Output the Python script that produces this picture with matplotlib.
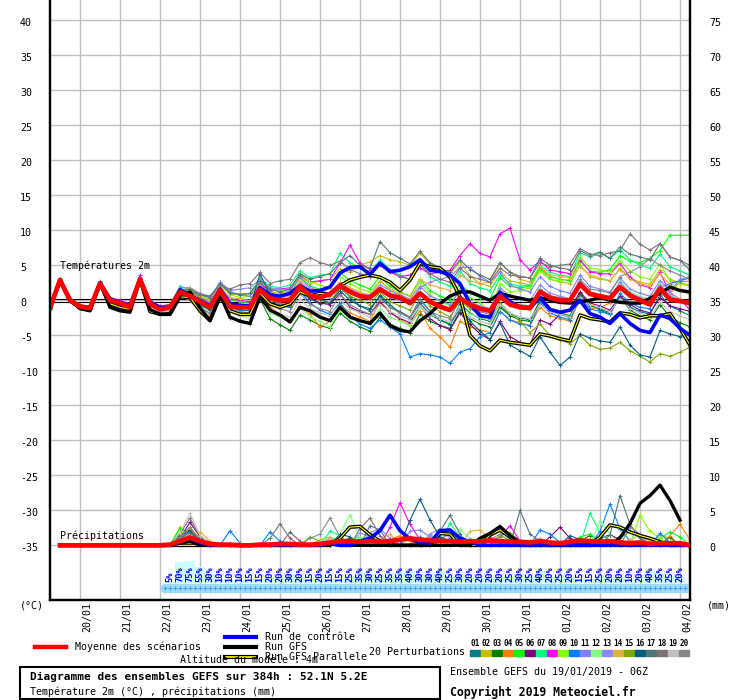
import numpy as np
import matplotlib
matplotlib.use("Agg")
import matplotlib.pyplot as plt
from matplotlib import transforms
from matplotlib.patches import Rectangle
from matplotlib.lines import Line2D

plt.rcParams['font.family'] = ['DejaVu Sans Mono']

# time axis : 65 steps of 6h from 19/01 06Z
steps = np.arange(65)
hours = steps * 6

day_labels = ['20/01', '21/01', '22/01', '23/01', '24/01', '25/01', '26/01', '27/01',
              '28/01', '29/01', '30/01', '31/01', '01/02', '02/02', '03/02', '04/02']
day_hours = [18 + 24 * k for k in range(len(day_labels))]

temp_ticks = list(range(-35, 45, 5))
rr_ticks = list(range(0, 80, 5))

# temperature 2m (°C)
mean_t = [-1.1, 2.9, 0.0, -0.9, -1.1, 2.4, 0.0, -0.4, -1.0, 3.0, -0.5, -1.3, -1.0,
          1.2, 0.6, -0.2, -1.0, 1.4, -0.9, -1.0, -1.0, 1.5, 0.3, 0.0, 0.0, 2.0,
          0.7, 0.4, 0.9, 2.1, 1.2, 0.6, 0.4, 1.6, 0.7, 0.4, -0.4, 1.0, -0.2,
          -0.9, -1.4, 0.3, -0.6, -1.2, -1.5, 0.6, -0.6, -1.0, -1.1, 1.2, 0.4, 0.0,
          0.0, 2.3, 0.9, 0.6, 0.3, 1.9, 0.7, 0.0, -0.6, 1.7, 0.1, -0.1, -0.4]
ctrl_t = [-1.1, 2.8, 0.1, -0.9, -1.2, 2.5, 0.2, -0.3, -0.8, 3.1, -0.3, -1.0, -1.0,
          1.5, 0.6, 0.0, -0.8, 1.6, -0.5, -0.7, -0.8, 1.8, 0.8, 0.6, 1.0, 2.1,
          1.3, 1.4, 1.9, 3.9, 4.7, 4.8, 3.7, 5.3, 4.1, 4.3, 4.8, 5.8, 4.3,
          4.1, 3.6, 2.4, -0.5, -2.2, -2.4, 1.2, -0.2, -1.0, -1.1, 0.4, -1.3, -1.7,
          -1.4, 0.0, -1.9, -2.4, -3.3, -1.9, -3.3, -4.3, -4.6, -2.1, -2.6, -4.0, -5.0]
gfs_t = [-1.1, 2.9, 0.0, -1.2, -1.5, 2.5, -1.0, -1.5, -1.7, 3.0, -1.3, -2.0, -1.9,
         0.7, 1.2, -1.1, -2.9, 0.8, -2.4, -3.0, -3.3, 0.5, -1.4, -2.1, -3.1, -1.0,
         -1.5, -2.4, -2.9, -1.0, -2.4, -2.9, -3.3, -1.8, -3.6, -4.3, -4.5, -2.9, -1.9,
         -0.5, 0.6, 1.2, 1.2, 0.6, 0.0, 1.0, 0.6, 0.3, 0.0, 0.4, 0.0, -0.3,
         -0.4, -0.2, 0.0, 0.4, 0.0, -0.3, -0.4, -0.4, 0.3, 1.0, 1.9, 1.4, 1.2]
para_t = [-1.1, 2.9, 0.0, -1.1, -1.4, 2.4, -0.5, -1.0, -1.3, 3.0, -1.6, -2.0, -2.0,
          0.5, 0.4, -1.5, -2.9, 0.5, -1.5, -2.0, -2.0, 1.0, -0.5, -1.0, -0.5, 1.2,
          0.6, 1.0, 0.8, 2.1, 2.9, 3.3, 3.6, 3.3, 2.6, 1.4, 2.9, 5.3, 4.8,
          4.6, 3.3, 0.5, -5.0, -6.5, -7.2, -5.7, -6.0, -6.2, -6.4, -4.8, -5.1, -5.5,
          -5.8, -2.1, -2.6, -2.8, -3.1, -1.8, -2.0, -2.5, -2.2, -2.2, -1.9, -4.0, -6.4]

pert_t = [
    [-1.0, 2.8, 0.1, -0.8, -1.2, 2.3, 0.1, -0.5, -1.1, 2.9, -0.6, -1.4, -1.2,
     1.0, 0.5, -0.5, -1.3, 1.2, -1.0, -1.4, -1.5, 1.1, -0.2, -0.8, -1.0, 1.5,
     0.2, -0.5, -0.3, 1.8, 0.5, -0.8, -1.5, 0.8, -0.6, -1.8, -2.5, 0.2, -1.5,
     -2.8, -3.5, -0.5, -1.8, -2.6, -3.0, -0.8, -2.0, -2.5, -2.8, -0.2, -1.5, -2.0,
     -2.5, 0.8, -0.8, -1.2, -1.8, 0.5, -1.0, -1.6, -2.0, 0.8, -0.8, -1.5, -2.2],
    [-1.2, 2.7, 0.2, -0.6, -0.9, 2.2, 0.3, -0.2, -0.7, 2.8, -0.2, -1.0, -0.6,
     1.5, 1.2, 0.5, 0.0, 2.4, 0.8, 1.0, 0.9, 2.3, 1.2, 1.0, 1.4, 3.6,
     2.4, 2.8, 3.0, 4.5, 4.0, 5.0, 5.5, 6.4, 5.8, 5.5, 5.0, 6.7, 5.2,
     4.5, 3.8, 5.5, 3.5, 2.4, 2.0, 4.2, 2.8, 2.5, 2.2, 4.5, 3.0, 2.6,
     2.4, 5.0, 3.4, 3.0, 2.8, 4.6, 3.2, 2.6, 2.3, 4.4, 3.0, 2.5, 2.2],
    [-1.1, 3.0, -0.1, -1.0, -1.3, 2.4, -0.2, -0.6, -1.2, 3.1, -0.7, -1.5, -1.4,
     0.8, 0.2, -1.0, -2.0, 0.6, -2.5, -2.8, -3.4, 0.2, -2.6, -3.5, -4.3, -2.1,
     -2.8, -3.6, -4.0, -1.8, -3.0, -3.8, -4.4, -2.4, -3.4, -4.0, -4.6, -2.0, -3.0,
     -3.6, -4.0, -1.6, -2.6, -3.4, -3.8, -1.0, -2.2, -2.8, -3.0, 0.0, -1.2, -1.8,
     -2.2, 1.0, -0.6, -1.4, -2.0, 0.6, -1.4, -2.2, -2.8, -0.6, -2.4, -3.2, -3.8],
    [-1.0, 2.9, 0.0, -1.0, -1.2, 2.3, -0.3, -0.8, -1.3, 2.9, -0.8, -1.6, -1.5,
     0.6, 0.0, -1.6, -2.3, 0.8, -1.6, -2.0, -2.2, 0.9, -1.0, -2.0, -2.9, -0.8,
     -2.0, -3.8, -3.0, -0.6, -1.8, -2.4, -3.0, -0.2, -1.6, -2.8, -3.5, -1.5, -4.0,
     -5.2, -6.7, -3.0, -3.8, -4.2, -4.6, -1.6, -2.8, -3.2, -3.6, -1.0, -2.2, -2.6,
     -3.0, 0.2, -1.2, -1.0, -0.4, 1.8, 0.8, 0.4, 0.2, 2.2, 1.0, 2.7, 2.7],
    [-0.9, 3.2, 0.2, -0.7, -1.0, 2.6, 0.1, -0.3, -0.9, 3.2, -0.4, -1.2, -0.9,
     1.6, 0.9, 0.2, -0.6, 2.0, 0.0, -0.2, -0.4, 2.6, 1.0, 0.6, 0.8, 3.4,
     2.0, 1.6, 2.0, 4.0, 2.8, 2.2, 1.6, 3.4, 2.0, 1.2, 0.6, 3.0, 1.4,
     0.6, 0.0, 2.4, 1.0, 0.4, 0.2, 3.2, 2.0, 1.8, 2.0, 4.6, 3.4, 3.0,
     2.8, 5.6, 4.2, 4.0, 4.4, 6.4, 5.6, 5.4, 6.0, 7.1, 9.3, 9.3, 9.3],
    [-1.2, 2.8, -0.1, -0.9, -1.1, 2.4, 0.0, -0.4, -1.0, 3.0, -0.5, -1.2, -1.0,
     1.1, 0.4, -0.4, -1.2, 1.3, -0.6, -1.0, -1.2, 1.2, -0.4, -0.6, -0.8, 1.8,
     0.4, -0.4, -0.6, 1.0, -1.0, -1.6, -2.0, -0.2, -1.8, -2.6, -3.2, -0.8, -2.6,
     -3.6, -4.2, -1.8, -3.4, -4.8, -5.6, -3.0, -5.2, -6.0, -6.4, -2.8, -3.4, -2.0,
     -1.2, 1.2, -0.4, -0.8, -1.4, 0.6, -0.6, -1.4, -1.8, 0.4, -0.8, -1.2, -1.6],
    [-1.0, 3.1, 0.3, -0.6, -0.9, 2.7, 0.4, -0.1, -0.7, 3.3, -0.2, -0.9, -0.7,
     2.0, 1.5, 0.8, 0.4, 2.6, 1.2, 0.8, 1.0, 3.2, 2.0, 1.8, 2.2, 4.2,
     3.2, 3.6, 3.8, 6.7, 5.4, 4.6, 4.0, 5.8, 4.4, 3.6, 3.0, 5.2, 3.4,
     2.6, 2.0, 4.2, 2.4, 1.8, 1.4, 3.6, 2.4, 2.0, 2.2, 5.0, 4.0, 3.6,
     3.4, 6.8, 6.2, 6.7, 6.0, 7.2, 5.8, 5.0, 4.6, 6.6, 4.8, 4.2, 3.6],
    [-1.1, 2.9, 0.2, -0.7, -0.8, 2.6, 0.4, 0.0, -0.5, 3.6, 0.0, -0.8, -0.6,
     1.4, 0.8, 0.2, -0.4, 2.0, 0.2, 0.0, -0.2, 2.4, 1.4, 1.6, 1.8, 3.6,
     2.6, 2.8, 3.0, 5.3, 7.9, 5.3, 4.4, 5.0, 4.0, 3.4, 3.6, 4.6, 3.8,
     4.0, 4.3, 6.4, 8.1, 6.7, 6.2, 9.5, 10.3, 5.8, 4.3, 5.7, 4.3, 4.1,
     3.8, 5.8, 4.1, 3.8, 3.8, 5.3, 3.3, 2.2, 1.8, 4.0, 1.0, 0.2, -1.4],
    [-1.0, 3.0, 0.1, -0.8, -1.0, 2.5, 0.2, -0.3, -0.9, 3.1, -0.3, -1.1, -0.8,
     1.3, 1.6, 0.6, 0.2, 2.2, 0.8, 0.4, 0.6, 2.8, 1.6, 1.4, 1.6, 3.8,
     2.6, 2.2, 1.8, 3.4, 2.4, 1.6, 1.2, 2.8, 1.4, 0.6, 0.2, 2.6, 0.8,
     -0.2, -0.8, 1.6, 0.4, -0.4, -1.6, 2.4, 1.2, 1.4, 1.8, 4.2, 3.0, 2.8,
     3.0, 6.2, 4.6, 4.4, 4.0, 5.6, 4.2, 3.4, 3.0, 5.2, 2.8, 2.4, 2.0],
    [-1.1, 2.9, 0.0, -0.9, -1.2, 2.5, 0.1, -0.4, -1.0, 3.0, -0.4, -1.2, -1.1,
     1.2, 0.4, -0.8, -1.4, 1.4, -0.8, -1.2, -1.2, 1.6, 0.2, -0.6, -1.0, 1.4,
     -0.4, -1.4, -2.0, -0.4, -2.2, -3.4, -4.0, -2.8, -3.8, -4.8, -8.1, -7.6, -7.8,
     -8.1, -9.0, -7.4, -6.9, -5.2, -4.6, -1.6, -2.8, -3.4, -3.6, -0.4, -1.8, -2.4,
     -2.8, 0.4, -1.2, -1.6, -2.0, 1.0, -0.4, -1.0, -1.2, 1.8, 2.4, 2.8, 3.2],
    [-1.2, 2.7, 0.1, -0.8, -1.0, 2.3, 0.4, -0.2, -0.8, 2.8, -0.3, -1.0, -0.8,
     1.8, 1.8, 1.0, 0.6, 2.4, 1.2, 0.8, 0.6, 2.2, 1.0, 0.6, 0.4, 2.6,
     1.2, 0.8, 0.4, 2.2, 1.0, 0.6, 0.2, 1.6, 0.4, 0.0, -0.4, 1.8, 2.6,
     3.0, 3.4, 4.7, 4.7, 3.4, 2.6, 4.0, 2.2, 1.6, 1.2, 3.4, 2.0, 1.4,
     1.0, 3.6, 2.0, 1.6, 1.2, 3.2, 1.6, 1.0, 0.6, 2.8, 1.4, 3.0, 3.4],
    [-1.0, 2.8, 0.0, -0.9, -1.1, 2.4, 0.0, -0.5, -1.0, 2.9, -0.6, -1.3, -1.1,
     1.0, 0.2, -0.6, -1.6, 1.0, -1.6, -2.0, -2.2, 0.6, -1.8, -2.4, -2.8, -1.0,
     -2.4, -3.0, -3.8, -1.4, -2.6, -3.0, -3.4, -1.2, -2.4, -3.0, -3.6, -1.0, -2.2,
     -2.8, -3.2, -0.8, -2.0, -2.4, -2.8, 0.8, -0.6, -1.2, -1.4, 1.6, 0.4, 0.0,
     -0.4, 2.4, 1.0, 0.6, 0.2, 2.8, 1.2, 0.6, 0.0, 2.4, 0.8, 0.2, -0.4],
    [-1.1, 2.9, 0.1, -0.8, -1.1, 2.4, 0.2, -0.3, -0.9, 3.0, -0.3, -1.1, -0.9,
     1.4, 1.0, 0.4, -0.2, 2.6, 1.4, 1.6, 1.8, 3.0, 1.8, 1.6, 1.4, 3.2,
     1.8, 1.4, 1.0, 2.6, 1.6, 1.0, 0.8, 2.2, 1.4, 0.8, 0.2, 2.0, 0.6,
     0.0, -0.6, 1.4, -0.2, -0.8, -1.2, 1.8, 0.6, 0.2, 0.0, 2.2, 1.0, 0.6,
     0.2, 2.8, 1.2, 0.8, 0.4, 2.6, 1.0, 0.4, -0.2, 2.2, 0.6, 0.0, -0.6],
    [-1.0, 2.8, 0.0, -0.9, -1.2, 2.3, 0.0, -0.6, -1.1, 2.9, -0.7, -1.4, -1.2,
     1.0, 1.8, 0.6, 0.0, 1.8, 0.4, 0.2, 0.0, 2.0, 0.8, 0.4, 0.6, 2.8,
     1.6, 1.0, 0.6, 2.6, 1.8, 1.2, 0.6, 2.8, 1.6, 1.0, 0.6, 3.0, 2.2,
     1.8, 1.4, 3.6, 2.8, 2.4, 2.6, 5.3, 4.0, 3.0, 2.6, 4.8, 3.6, 3.4,
     3.2, 4.8, 3.6, 3.2, 2.8, 4.4, 3.0, 2.4, 2.0, 3.8, 2.2, 1.4, 0.8],
    [-1.1, 2.9, 0.0, -1.0, -1.3, 2.4, -0.1, -0.6, -1.2, 3.0, -0.6, -1.4, -1.3,
     0.9, 1.4, 0.4, -0.6, 1.2, -0.4, -0.8, -1.0, 1.4, 0.0, -0.4, -0.6, 1.8,
     0.6, 0.0, -0.4, 1.8, 0.6, 0.0, -0.6, 1.2, -0.2, -0.8, -1.4, 1.0, -0.8,
     -1.6, -2.4, 0.0, -1.2, -2.0, -2.6, -0.4, -1.8, -3.0, -4.6, -3.4, -5.0, -5.6,
     -6.2, -5.0, -6.4, -7.0, -6.8, -6.0, -7.2, -8.0, -8.8, -7.6, -8.0, -7.4, -6.7],
    [-1.2, 2.9, -0.1, -1.0, -1.3, 2.5, -0.2, -0.6, -1.1, 3.0, -0.6, -1.3, -1.2,
     1.2, 0.6, -0.6, -1.4, 1.6, -0.8, -1.0, -1.0, 3.8, 0.8, 0.2, -0.4, 2.2,
     0.8, 0.2, -0.4, 1.4, 0.0, -0.8, -1.2, 0.6, -1.0, -1.6, -2.4, -0.4, -2.0,
     -2.8, -3.4, -1.2, -3.0, -4.4, -5.6, -3.2, -6.4, -7.2, -8.0, -5.2, -7.4, -9.3,
     -8.1, -4.8, -5.4, -5.8, -6.0, -3.8, -6.4, -7.8, -8.1, -4.3, -4.8, -5.2, -4.6],
    [-1.1, 2.8, 0.0, -0.8, -1.0, 2.4, 0.2, -0.2, -0.8, 3.1, -0.2, -1.0, -0.8,
     1.4, 1.6, 0.8, 0.4, 2.4, 1.0, 0.8, 1.0, 2.8, 1.6, 1.2, 1.6, 3.8,
     3.0, 3.4, 3.8, 5.4, 6.4, 5.0, 4.6, 8.4, 6.8, 6.0, 5.2, 7.0, 5.4,
     4.6, 4.0, 5.8, 4.4, 3.6, 3.0, 5.4, 4.0, 3.4, 3.2, 6.0, 5.0, 4.6,
     4.4, 7.1, 6.4, 6.9, 6.0, 7.6, 6.6, 6.2, 5.8, 8.1, 6.2, 5.7, 4.3],
    [-1.0, 2.9, 0.1, -0.7, -0.9, 2.6, 0.3, -0.1, -0.6, 3.2, -0.1, -0.9, -0.6,
     1.6, 1.2, 0.8, 0.6, 2.2, 1.6, 2.2, 2.4, 4.0, 2.4, 2.8, 3.0, 5.4,
     6.1, 5.4, 5.0, 5.6, 4.4, 3.8, 3.4, 5.4, 4.2, 3.4, 3.0, 5.2, 3.8,
     3.0, 2.6, 4.6, 3.4, 3.0, 2.6, 4.6, 3.6, 3.4, 3.2, 5.4, 4.8, 5.0,
     5.2, 7.4, 6.6, 6.4, 6.8, 7.1, 9.5, 8.0, 7.2, 8.1, 6.2, 5.7, 5.0],
    [-1.1, 2.8, 0.0, -1.0, -1.3, 2.2, -0.2, -0.7, -1.3, 2.8, -0.8, -1.6, -1.4,
     0.8, 0.2, -1.2, -2.0, 0.4, -1.6, -2.2, -2.6, 0.4, -1.4, -2.0, -2.4, 0.2,
     -1.2, -1.8, -2.2, 0.0, -1.2, -1.8, -2.4, -0.6, -1.6, -2.2, -2.8, -0.8, -2.0,
     -2.6, -3.0, -1.0, -2.4, -3.0, -3.4, -0.6, -1.8, -2.4, -2.6, -0.6, -1.6, -2.0,
     -2.4, 0.4, -0.6, -1.0, -1.6, 0.2, -1.2, -1.8, -2.4, -0.2, -1.6, -2.2, -2.8],
    [-1.0, 2.9, 0.0, -0.9, -1.2, 2.4, -0.1, -0.5, -1.0, 3.0, -0.6, -1.3, -1.2,
     1.0, 0.0, -1.0, -1.8, 1.0, -1.2, -1.6, -1.8, 1.0, -0.6, -1.2, -1.6, 1.0,
     -0.6, -1.2, -1.6, 0.8, -0.6, -1.4, -2.0, 0.2, -1.0, -1.8, -2.4, 0.0, -1.6,
     -2.2, -2.6, 0.2, -1.0, -1.6, -2.0, 1.0, -0.2, -0.6, -0.8, 1.6, 0.6, 0.4,
     0.2, 3.0, 1.6, 1.4, 1.0, 3.4, 4.0, 4.8, 6.0, 5.0, 4.2, 3.6, 3.0],
]

# precipitation (mm), steps 1..64
mean_rr = [0, 0, 0, 0, 0, 0, 0, 0, 0, 0, 0,
           0.1, 0.6, 1.1, 0.6, 0.2, 0.1, 0.1, 0.0, 0.0, 0.1, 0.1, 0.2, 0.2, 0.1, 0.1,
           0.2, 0.4, 0.6, 0.6, 0.5, 0.6, 0.5, 0.6, 0.8, 1.0, 0.8, 0.7, 0.6, 0.6,
           0.5, 0.6, 0.5, 0.7, 0.6, 0.5, 0.5, 0.4, 0.6, 0.4, 0.3, 0.5, 0.7, 0.6,
           0.5, 0.6, 0.4, 0.3, 0.4, 0.2, 0.3, 0.3, 0.3, 0.0]
# only the non zero steps
ctrl_rr = {13: 0.5, 14: 1.0, 15: 0.4, 28: 0.3, 31: 0.6, 32: 1.0, 33: 2.1, 34: 4.3, 35: 2.1,
           36: 0.9, 37: 0.4, 38: 0.3, 39: 2.1, 40: 2.2, 41: 1.0, 42: 0.5}
gfs_rr = {13: 0.3, 14: 0.6, 28: 0.2, 43: 1.0, 44: 1.7, 45: 2.7, 46: 1.4, 47: 0.4, 48: 0.2,
          57: 1.1, 58: 3.1, 59: 6.0, 60: 7.1, 61: 8.6, 62: 6.4, 63: 3.6, 64: np.nan}
para_rr = {29: 1.0, 30: 2.6, 31: 2.7, 32: 1.5, 33: 0.6, 39: 1.7, 40: 1.6, 44: 1.5, 45: 2.2,
           46: 1.2, 55: 1.2, 56: 2.9, 57: 2.6, 58: 1.9, 59: 1.4, 60: 1.0, 61: 0.5}
pert_rr = [
    {13: 1.2, 14: 2.1, 15: 0.8, 16: 0.2, 28: 0.5, 31: 1.0, 37: 1.2, 38: 0.6, 44: 0.8, 45: 0.4, 52: 0.6, 53: 1.0, 57: 0.5},
    {13: 2.6, 14: 1.4, 15: 0.5, 27: 0.8, 28: 1.2, 29: 0.4, 36: 1.0, 38: 1.5, 39: 0.6, 45: 0.8, 46: 0.5, 57: 0.5, 61: 1.5, 62: 1.0},
    {13: 1.5, 14: 1.8, 15: 0.6, 29: 0.6, 30: 1.0, 41: 1.0, 42: 0.5, 53: 0.6, 54: 1.4, 55: 0.8, 56: 0.6, 62: 1.2},
    {13: 0.8, 14: 1.5, 15: 0.9, 34: 0.8, 35: 1.4, 36: 0.6, 44: 0.6, 58: 0.8, 62: 1.4, 63: 3.0, 64: 0.8},
    {13: 2.4, 14: 1.8, 15: 0.4, 28: 1.0, 29: 0.8, 47: 0.4, 48: 0.6, 53: 1.2, 54: 1.6, 55: 0.6, 61: 1.0, 62: 1.9, 63: 1.2},
    {13: 1.0, 14: 3.3, 15: 1.2, 35: 0.8, 36: 1.2, 50: 1.2, 51: 2.6, 52: 1.0, 55: 1.0, 56: 1.5, 57: 0.8},
    {13: 1.6, 14: 2.2, 15: 0.8, 28: 2.0, 29: 1.4, 40: 3.2, 41: 1.2, 42: 0.6, 54: 4.6, 55: 1.8, 56: 0.6},
    {13: 1.0, 14: 2.2, 15: 1.0, 34: 2.6, 35: 6.1, 36: 3.0, 37: 0.8, 44: 0.6, 45: 1.2, 46: 2.8, 47: 0.6, 51: 0.4, 52: 0.8},
    {13: 1.8, 14: 2.0, 15: 0.6, 30: 0.8, 31: 1.2, 38: 0.6, 39: 1.0, 45: 1.4, 46: 0.8, 59: 4.3, 60: 2.0, 61: 1.0},
    {12: 0.2, 13: 0.8, 14: 1.4, 15: 0.4, 18: 2.1, 19: 0.3, 22: 1.9, 23: 0.6, 49: 2.2, 50: 1.6, 51: 0.4,
     55: 2.0, 56: 5.9, 57: 2.4, 58: 0.6, 61: 1.7, 62: 0.4},
    {13: 1.0, 14: 1.6, 15: 0.5, 31: 1.8, 32: 1.2, 36: 2.0, 37: 2.2, 38: 1.2, 39: 1.0, 40: 1.6, 41: 0.8},
    {13: 1.2, 14: 1.6, 15: 0.6, 29: 1.6, 30: 4.4, 31: 1.0, 41: 2.3, 42: 1.0, 49: 0.8, 50: 0.6, 55: 3.5, 56: 1.6},
    {13: 1.0, 14: 2.0, 15: 0.6, 32: 1.8, 33: 2.4, 34: 1.0, 38: 1.6, 39: 2.4, 40: 1.0, 48: 0.6},
    {13: 0.8, 14: 1.6, 15: 1.9, 16: 0.6, 33: 0.8, 34: 1.6, 42: 2.0, 43: 2.2, 44: 0.8, 58: 0.8, 59: 1.4, 60: 0.6},
    {13: 1.4, 14: 2.4, 15: 0.8, 26: 1.2, 27: 0.6, 45: 1.4, 46: 1.8, 47: 0.6, 57: 1.0, 58: 2.0, 59: 1.2},
    {13: 1.4, 14: 2.1, 15: 0.6, 29: 1.6, 30: 1.2, 36: 3.6, 37: 6.6, 38: 3.6, 39: 1.2, 40: 0.6, 52: 1.4, 53: 0.8},
    {13: 1.0, 14: 1.8, 15: 0.6, 24: 1.9, 25: 0.6, 32: 2.8, 33: 2.2, 39: 2.0, 40: 4.3, 41: 1.6, 47: 5.0,
     48: 1.6, 49: 0.6, 56: 1.5, 57: 7.1, 58: 3.0, 59: 1.0},
    {13: 1.6, 14: 3.9, 15: 1.2, 22: 1.0, 23: 3.1, 24: 1.0, 31: 2.4, 32: 3.9, 33: 1.4, 44: 1.2, 45: 2.0, 46: 1.0},
    {13: 1.8, 14: 4.6, 15: 1.4, 16: 0.4, 27: 0.6, 28: 1.0, 48: 0.6, 49: 1.0, 50: 0.4, 57: 0.6},
    {13: 1.2, 14: 2.6, 15: 0.8, 26: 1.0, 27: 1.6, 28: 3.9, 29: 1.2, 44: 0.8, 45: 1.6, 46: 0.6, 58: 2.6, 59: 1.6},
]

# percentages shown in the bottom strip (steps 12..63)
pct_steps = list(range(12, 64))
pct = [5, 70, 75, 55, 30, 10, 10, 10, 15, 15,
       20, 20, 30, 20, 15, 20, 15, 15, 25, 35,
       30, 25, 35, 35, 40, 30, 30, 40, 25, 30,
       20, 20, 20, 20, 25, 30, 25, 40, 20, 25,
       20, 15, 15, 25, 20, 20, 10, 20, 40, 35,
       25, 20]

pert_colors = ['#008080', '#c0c000', '#008000', '#ff8000', '#00ff00', '#800080', '#00ff80',
               '#ff00ff', '#80ff00', '#0080ff', '#8080ff', '#80ff80', '#8888ff', '#e0b040',
               '#80a800', '#006080', '#507478', '#807078', '#c0c0c0', '#888888']


def rr_series(d):
    arr = np.zeros(64)
    for k, v in d.items():
        arr[k - 1] = v
    return arr


W, H = 740, 700
fig = plt.figure(figsize=(W / 100, H / 100), dpi=100)
ax = fig.add_axes([50 / W, 100 / H, 640 / W, 600 / H])
ax2 = ax.twinx()

tlo, thi = -42.81, 42.9
ax.set_xlim(0, 384)
ax.set_ylim(tlo, thi)
ax2.set_ylim(tlo + 35, thi + 35)

# grid
for v in temp_ticks:
    ax.axhline(v, color='#c0c0c0', lw=1, zorder=0)
for h in day_hours:
    ax.axvline(h, color='#c0c0c0', lw=1, zorder=0)
ax.axhline(0.18, color='black', lw=0.8, zorder=1)
ax.axhline(-0.18, color='black', lw=0.8, zorder=1)

# temperature spaghetti
for k in range(20):
    ax.plot(hours, pert_t[k], color=pert_colors[k], lw=0.8, marker='+', ms=3, mew=0.7, zorder=2)
ax.plot(hours, para_t, color='black', lw=2.6, zorder=3)
ax.plot(hours, para_t, color='#ffff00', lw=0.8, zorder=3.1)
ax.plot(hours, gfs_t, color='black', lw=2.4, zorder=3.2)
ax.plot(hours, ctrl_t, color='#0000ff', lw=2.6, zorder=3.3)
ax.plot(hours, mean_t, color='#ff0000', lw=3.4, zorder=4)

# precipitation spaghetti
rh = hours[1:]
for k in range(20):
    ax2.plot(rh, rr_series(pert_rr[k]), color=pert_colors[k], lw=0.8, marker='+', ms=3, mew=0.7, zorder=2)
ax2.plot(rh, rr_series(para_rr), color='black', lw=2.6, zorder=3)
ax2.plot(rh, rr_series(para_rr), color='#ffff00', lw=0.8, zorder=3.1)
ax2.plot(rh, rr_series(gfs_rr), color='black', lw=2.4, zorder=3.2)
ax2.plot(rh, rr_series(ctrl_rr), color='#0000ff', lw=2.6, zorder=3.3)
ax2.plot(rh, mean_rr, color='#ff0000', lw=3.4, zorder=4)

# bottom strip : percentages and snow ribbon
ph = hours[pct_steps]
ax.bar(ph, np.array(pct) * 0.3 / 7, bottom=-40.4, width=6, color='#ccfcfc', zorder=1)
for x, p in zip(ph, pct):
    ax.text(x, -40.25, f"{p}%", rotation=90, ha='center', va='bottom', color='#0000ff',
            fontsize=6.3, fontweight='bold', zorder=5)
snow_x = np.arange(ph[0] - 3, ph[-1] + 4, 3)
ax.plot(snow_x, np.full(len(snow_x), -41.1), ls='none', marker='o', ms=6, mfc='#9adcf4',
        mec='#9adcf4', zorder=5)
ax.plot(snow_x, np.full(len(snow_x), -41.1), ls='none', marker='+', ms=3.5, mew=0.8,
        color='#4a9af2', zorder=5.1)

# axes look
for a in (ax, ax2):
    a.set_xticks([])
    a.set_yticks([])
    a.spines['top'].set_visible(False)
    for s in ('left', 'right', 'bottom'):
        a.spines[s].set_linewidth(1.6)

tick_tr_l = transforms.blended_transform_factory(fig.transFigure, ax.transData)
tick_tr_l = transforms.offset_copy(tick_tr_l, fig=fig, y=-3, units='dots')
for v in temp_ticks:
    ax.text(20 / W, v, str(v), transform=tick_tr_l, ha='left', va='center', fontsize=7.2)
tick_tr_r = transforms.blended_transform_factory(fig.transFigure, ax2.transData)
tick_tr_r = transforms.offset_copy(tick_tr_r, fig=fig, y=-3, units='dots')
for v in rr_ticks:
    ax2.text(709 / W, v, str(v), transform=tick_tr_r, ha='left', va='center', fontsize=7.2)

date_tr = transforms.offset_copy(ax.get_xaxis_transform(), fig=fig, x=7, y=-2, units='dots')
for h, lab in zip(day_hours, day_labels):
    ax.text(h, 0, lab, transform=date_tr, rotation=90, ha='center', va='top', fontsize=7.2)

# panel labels, placed 10 px right of the left spine
lab_tr = transforms.offset_copy(ax.transData, fig=fig, x=10, units='dots')
ax.text(0, 5.0, 'Températures 2m', transform=lab_tr, ha='left', va='center', fontsize=7.2, zorder=6)
ax.text(0, -33.7, 'Précipitations', transform=lab_tr, ha='left', va='center', fontsize=7.2, zorder=6)


def fx(x):
    return x / W


def fy(y):
    return 1 - y / H


fig.text(fx(20), fy(606), '(°C)', ha='left', va='center', fontsize=7.2)
fig.text(fx(707), fy(606), '(mm)', ha='left', va='center', fontsize=7.2)

# legend
fig.add_artist(Line2D([fx(35), fx(66)], [fy(647)] * 2, color='#ff0000', lw=3.2))
fig.text(fx(75), fy(647), 'Moyenne des scénarios', ha='left', va='center', fontsize=7.2)
fig.add_artist(Line2D([fx(225), fx(256)], [fy(637)] * 2, color='#0000ff', lw=3))
fig.text(fx(265), fy(637), 'Run de contrôle', ha='left', va='center', fontsize=7.2)
fig.add_artist(Line2D([fx(225), fx(256)], [fy(647)] * 2, color='black', lw=3))
fig.text(fx(265), fy(647), 'Run GFS', ha='left', va='center', fontsize=7.2)
fig.add_artist(Line2D([fx(225), fx(256)], [fy(656.5)] * 2, color='black', lw=3))
fig.add_artist(Line2D([fx(226), fx(255)], [fy(656.5)] * 2, color='#ffff00', lw=1.2))
fig.text(fx(265), fy(657), 'Run GFS Parallele', ha='left', va='center', fontsize=7.2)
fig.text(fx(180), fy(660), 'Altitude du modèle : 4m', ha='left', va='center', fontsize=7.2)

fig.text(fx(369), fy(652), '20 Perturbations', ha='left', va='center', fontsize=7.2)
for k in range(20):
    x0 = 470 + 11 * k
    fig.add_artist(Rectangle((fx(x0), fy(656)), fx(10), 6 / H, color=pert_colors[k],
                             transform=fig.transFigure))
    fig.text(fx(x0 + 5), fy(644), f"{k + 1:02d}", ha='center', va='center', fontsize=5.5,
             fontweight='bold')

fig.add_artist(Rectangle((fx(20), fy(699)), fx(420), 32 / H, fill=False, ec='black', lw=1.5,
                         transform=fig.transFigure))
fig.text(fx(30), fy(677), 'Diagramme des ensembles GEFS sur 384h : 52.1N 5.2E', ha='left',
         va='center', fontsize=8, fontweight='bold')
fig.text(fx(30), fy(692), 'Température 2m (°C) , précipitations (mm)', ha='left', va='center',
         fontsize=7.2)
fig.text(fx(450), fy(672), 'Ensemble GEFS du 19/01/2019 - 06Z', ha='left', va='center',
         fontsize=7.2)
fig.text(fx(450), fy(692), 'Copyright 2019 Meteociel.fr', ha='left', va='center', fontsize=8.3,
         fontweight='bold')

fig.savefig('out.png', dpi=100)
